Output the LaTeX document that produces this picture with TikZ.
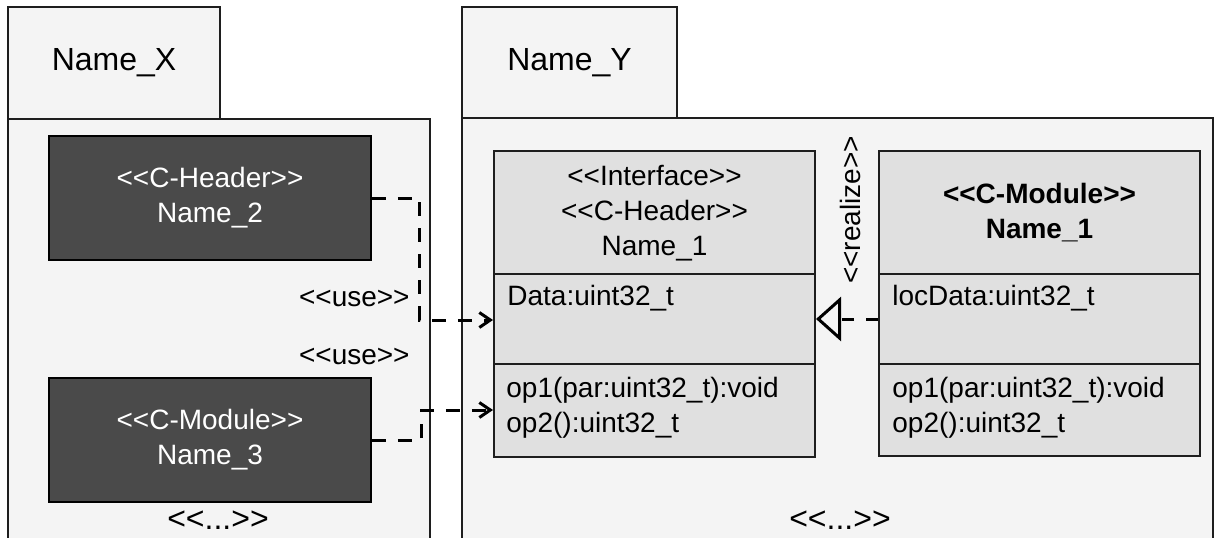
\documentclass[tikz,border=0pt]{standalone}
\usepackage{fontspec}
\newfontfamily\umlfont{Liberation Sans}
\usetikzlibrary{arrows.meta}
\definecolor{pkgfill}{HTML}{F4F4F4}
\definecolor{clsfill}{HTML}{E0E0E0}
\definecolor{darkfill}{HTML}{4A4A4A}
\definecolor{edge}{HTML}{1E1E1E}

\begin{document}
\begin{tikzpicture}[x=0.5pt,y=-0.5pt,
  pkgtab/.style={draw=edge, line width=1pt, fill=pkgfill, inner sep=0pt,
    font=\umlfont\fontsize{16}{19}\selectfont},
  pkgbody/.style={draw=edge, line width=1pt, fill=pkgfill},
  darkbox/.style={draw=black, line width=0.8pt, fill=darkfill, text=white,
    align=center, minimum width=161pt, minimum height=62pt, inner sep=0pt,
    font=\umlfont\fontsize{14}{17.5}\selectfont},
  classbox/.style={draw=edge, line width=1pt, fill=clsfill,
    minimum width=160.5pt, inner sep=0pt},
  divider/.style={draw=edge, line width=1pt},
  lbl/.style={inner sep=0pt, font=\umlfont\fontsize{14}{17.5}\selectfont},
  biglbl/.style={inner sep=0pt, font=\umlfont\fontsize{16}{19}\selectfont},
  usedep/.style={line width=1.5pt, dash pattern=on 7pt off 6pt,
    -{Straight Barb[length=5.5pt,width=7.5pt,line width=1.5pt]}},
  realizes/.style={line width=1.5pt, dash pattern=on 6pt off 6pt,
    -{Triangle[open,length=12.5pt,width=22pt,line width=1.5pt]}},
]
\useasboundingbox (0,0) rectangle (1222,537);
\clip (0,0) rectangle (1222,537);

% package Name_X
\path[pkgbody] (8,560) -- (8,119) -- (430,119) -- (430,560);
\node[pkgtab, minimum width=106pt, minimum height=56pt] (tabX) at (114,63) {Name\_X};

% package Name_Y
\path[pkgbody] (462,560) -- (462,118) -- (1213,118) -- (1213,560);
\node[pkgtab, minimum width=107.5pt, minimum height=55.5pt] (tabY) at (569.5,62.5) {Name\_Y};

% classes inside Name_X
\node[darkbox] (hdr2) at (210,198) {<<C-Header>>\\Name\_2};
\node[darkbox] (mod3) at (210,440) {<<C-Module>>\\Name\_3};

% interface class in Name_Y
\node[classbox, minimum height=153pt] (iface) at (654.5,304) {};
\coordinate (ya) at (0,274);
\coordinate (yb) at (0,364);
\draw[divider] (iface.west |- ya) -- (iface.east |- ya);
\draw[divider] (iface.west |- yb) -- (iface.east |- yb);
\node[lbl, align=center] (ifaceTitle) at (654.5,213)
  {<<Interface>>\\<<C-Header>>\\Name\_1};
\node[lbl, anchor=west] (ifaceAttr) at (507,298) {Data:uint32\_t};
\node[lbl, anchor=west, align=left] (ifaceOps) at (506,407.5)
  {op1(par:uint32\_t):void\\op2():uint32\_t};

% implementing module in Name_Y
\node[classbox, minimum height=152.5pt] (mod1) at (1039.5,303.5) {};
\draw[divider] (mod1.west |- ya) -- (mod1.east |- ya);
\draw[divider] (mod1.west |- yb) -- (mod1.east |- yb);
\node[lbl, align=center, font=\umlfont\bfseries\fontsize{14}{17.5}\selectfont]
  (modTitle) at (1039.5,212.5) {<<C-Module>>\\Name\_1};
\node[lbl, anchor=west] (modAttr) at (892,298) {locData:uint32\_t};
\node[lbl, anchor=west, align=left] (modOps) at (892,407.5)
  {op1(par:uint32\_t):void\\op2():uint32\_t};

% dependencies
\coordinate (y1) at (0,320);
\coordinate (y2) at (0,410);
\coordinate (yr) at (0,319);
\draw[usedep] (hdr2.east) -- ++(48,0) |- (iface.west |- y1);
\draw[usedep] (mod3.east) -- ++(50,0) |- (iface.west |- y2);
\draw[realizes] (mod1.west |- yr) -- (iface.east |- yr);

% labels
\node[lbl, anchor=east] (use1) at (410,298) {<<use>>};
\node[lbl, anchor=east] (use2) at (410,356) {<<use>>};
\node[lbl, rotate=90] (realizeLbl) at (850,210) {<<realize>>};
\node[biglbl] (moreX) at (218,520) {<<...>>};
\node[biglbl] (moreY) at (840,520) {<<...>>};
\end{tikzpicture}
\end{document}
